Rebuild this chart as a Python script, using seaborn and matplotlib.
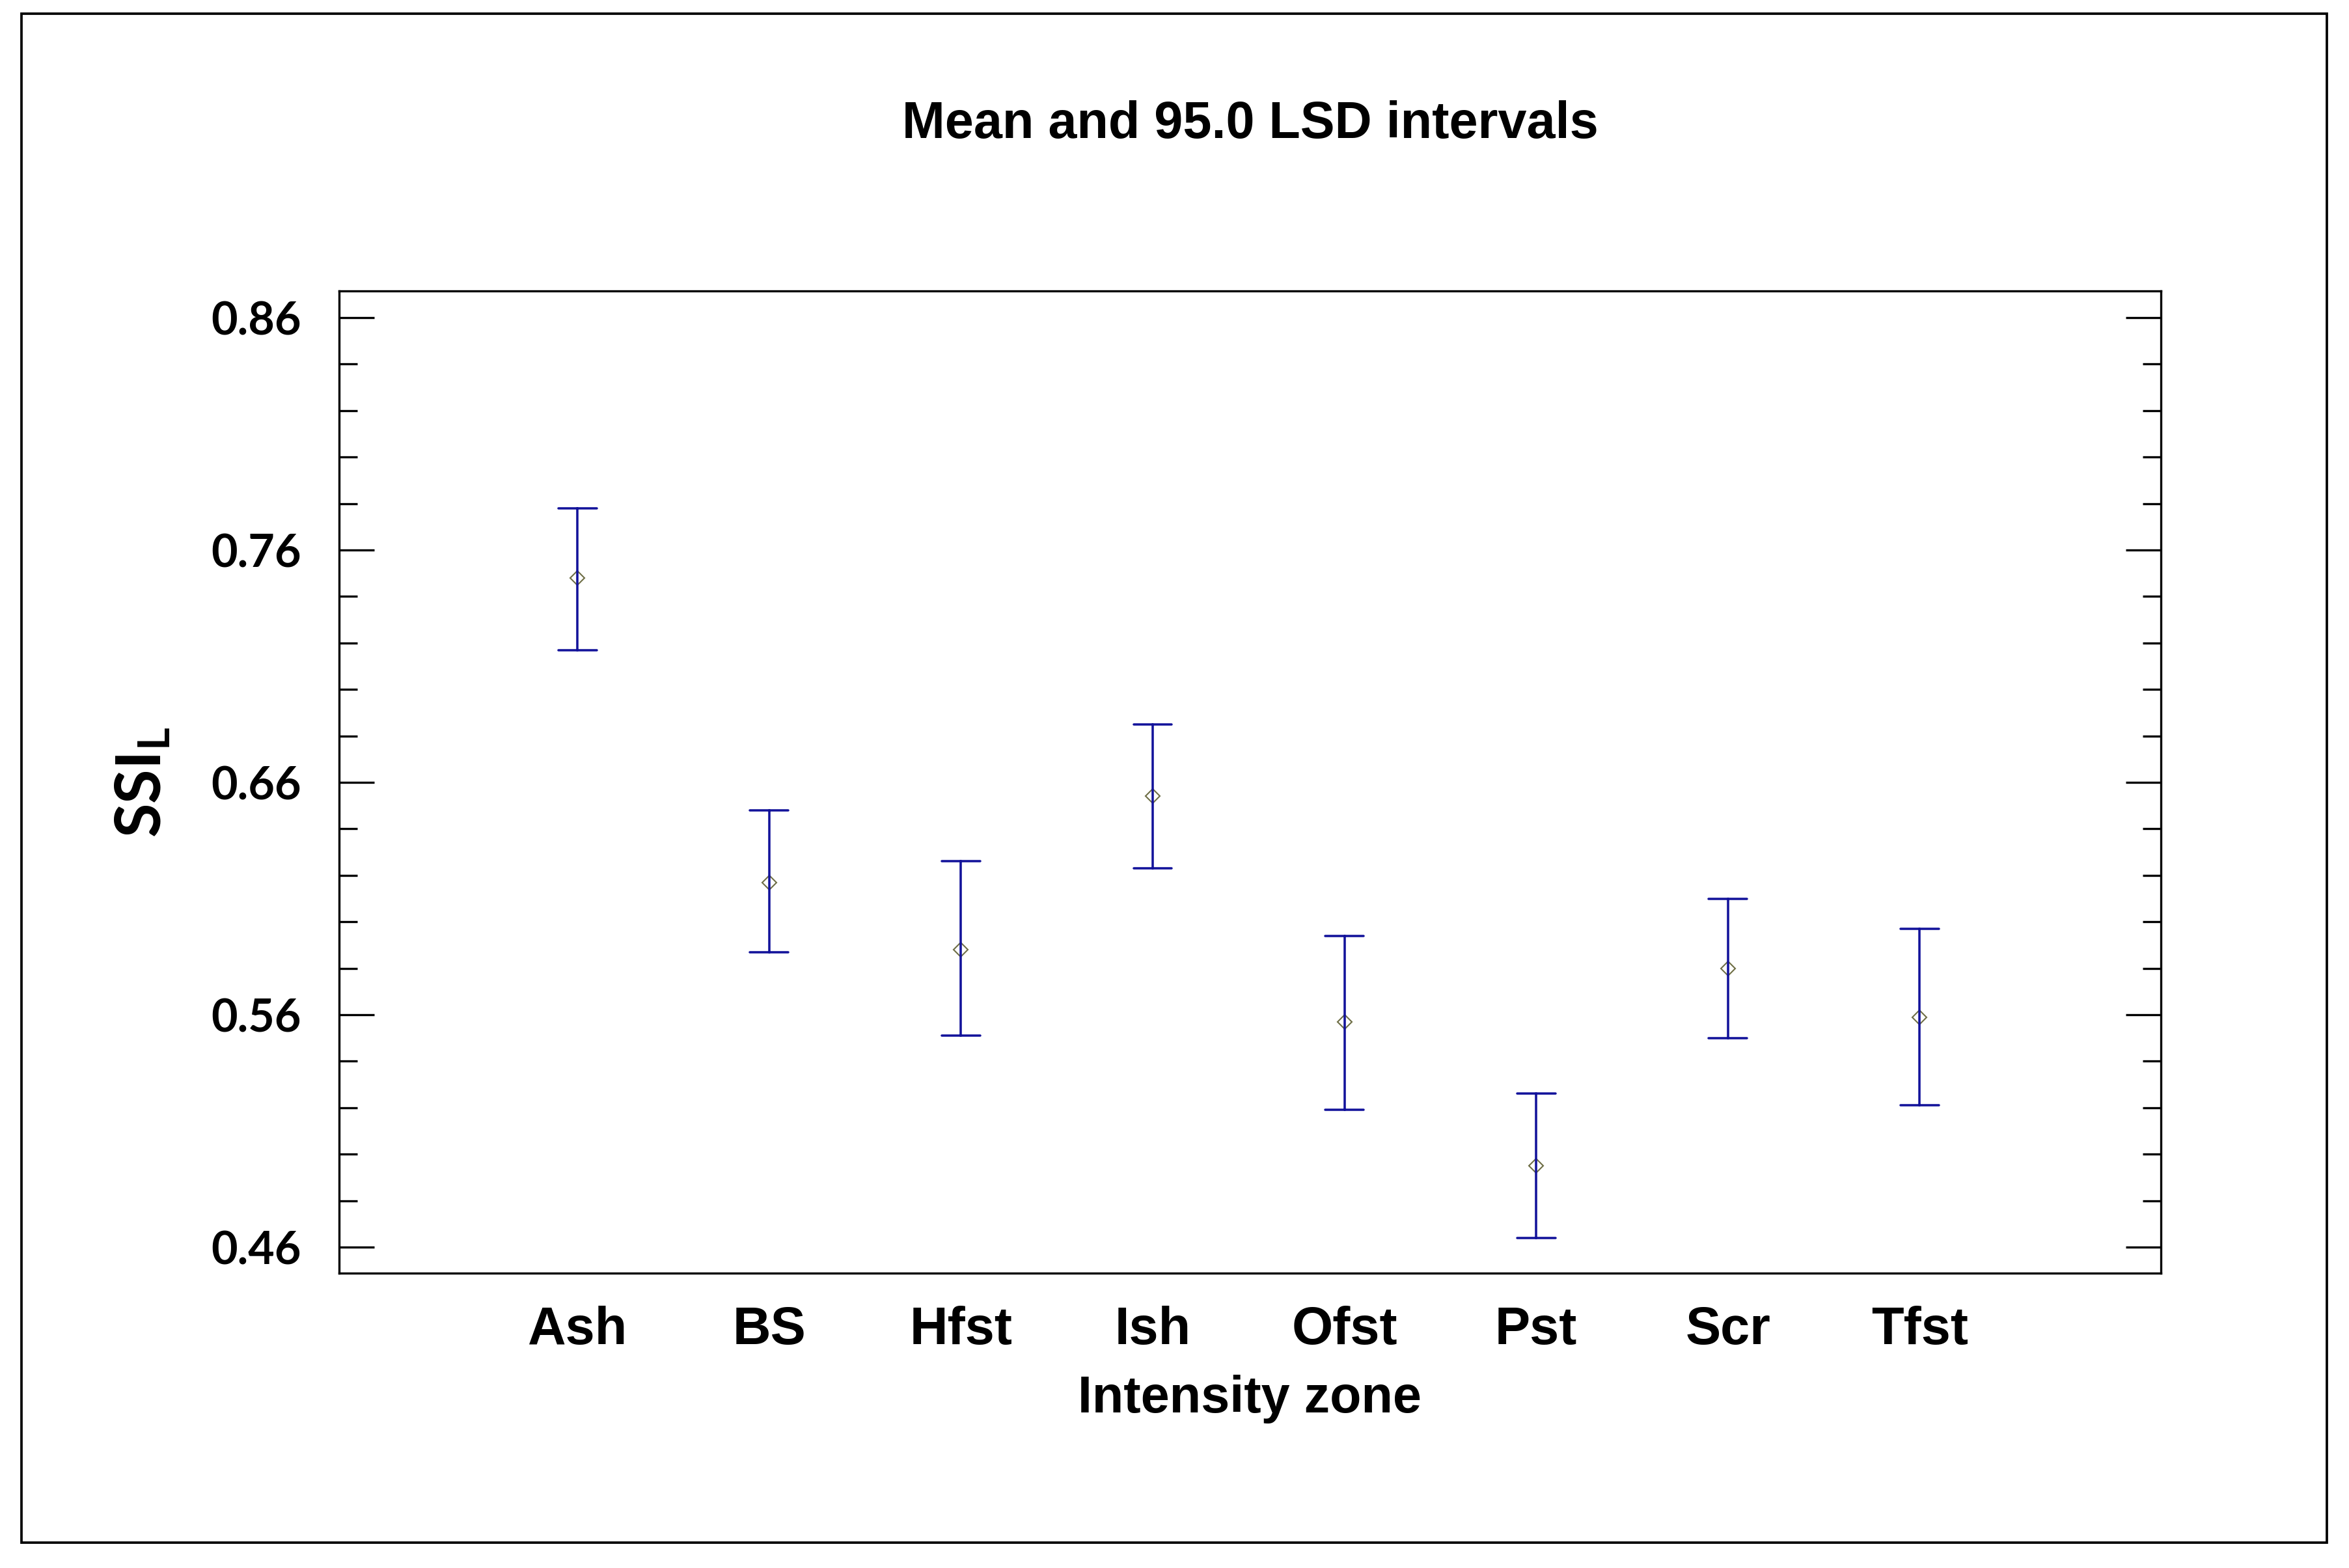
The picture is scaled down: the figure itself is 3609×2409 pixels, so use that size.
"""
Mean and 95.0 LSD intervals of SSI_L by intensity zone
(re-drawn from a Statgraphics means plot)
"""

import pandas as pd
import matplotlib.pyplot as plt
import matplotlib.patches as mpatches
from matplotlib.ticker import MultipleLocator
import seaborn as sns

# ── data ──────────────────────────────────────────────────────────────────────
ZONES   = ["Ash", "BS", "Hfst", "Ish", "Ofst", "Pst", "Scr", "Tfst"]
MEANS   = [0.748, 0.617, 0.588, 0.654, 0.557, 0.495, 0.580, 0.559]
LOWER   = [0.717, 0.587, 0.551, 0.623, 0.519, 0.464, 0.550, 0.521]
UPPER   = [0.778, 0.648, 0.626, 0.685, 0.594, 0.526, 0.610, 0.597]
Y_TICKS = [0.46, 0.56, 0.66, 0.76, 0.86]

NAVY  = "#12129A"
OLIVE = "#6E6E45"

# ── style ─────────────────────────────────────────────────────────────────────
sns.set_style("white")
plt.rcParams["font.family"] = ["Liberation Sans", "DejaVu Sans"]
plt.rcParams["font.weight"] = "bold"
plt.rcParams["mathtext.fontset"] = "custom"
plt.rcParams["mathtext.rm"] = "Lato:bold"
plt.rcParams["mathtext.it"] = "Lato:bold"
plt.rcParams["mathtext.bf"] = "Lato:bold"
plt.rcParams["axes.edgecolor"] = "black"
plt.rcParams["text.color"] = "black"
plt.rcParams["axes.labelcolor"] = "black"
plt.rcParams["xtick.color"] = "black"
plt.rcParams["ytick.color"] = "black"

# long table: each zone has lower / mean / upper -> median = mean, min/max = LSD limits
df = pd.DataFrame({
    "zone": ZONES * 3,
    "ssi":  LOWER + MEANS + UPPER,
})

fig = plt.figure(figsize=(12.03, 8.03), dpi=300, facecolor="white")
ax = fig.add_axes([0.14436, 0.18804, 0.77556, 0.62640])

sns.pointplot(
    data=df, x="zone", y="ssi", order=ZONES,
    estimator="median", errorbar=lambda v: (v.min(), v.max()),
    capsize=0.2, color=NAVY, markers="D", linestyles="none",
    err_kws={"linewidth": 0.85, "color": NAVY},
    markersize=3.6, markerfacecolor="none",
    markeredgecolor=OLIVE, markeredgewidth=0.5,
    ax=ax,
)

ax.set_xlim(-1.244, 8.259)
ax.set_ylim(0.4488, 0.8715)

# y axis: long ticks every 0.1, short every 0.02, both sides, pointing in
ax.set_yticks(Y_TICKS, labels=[f"{t:.2f}" for t in Y_TICKS],
              fontfamily="Lato", fontweight="bold", fontsize=16.8, color="black")
ax.yaxis.set_minor_locator(MultipleLocator(0.02))
ax.tick_params(axis="y", which="both", direction="in", left=True, right=True,
               width=0.8, color="black", pad=14)
ax.tick_params(axis="y", which="major", length=13)
ax.tick_params(axis="y", which="minor", length=6.7)
ax.tick_params(axis="x", length=0, pad=12, labelsize=19.5, labelcolor="black")

for side in ["left", "right", "top", "bottom"]:
    ax.spines[side].set_visible(True)
    ax.spines[side].set_linewidth(0.8)
    ax.spines[side].set_color("black")

ax.set_title("Mean and 95.0 LSD intervals", fontsize=19, fontweight="bold",
             pad=56.4, color="black")
ax.set_xlabel("Intensity zone", fontsize=19, fontweight="bold", color="black")
ax.xaxis.set_label_coords(0.5, -0.1034)
ax.set_ylabel(r"$\mathrm{SSI_L}$", fontsize=23, color="black")
ax.yaxis.set_label_coords(-0.0907, 0.5)

# outer frame round the whole picture
fig.add_artist(mpatches.Rectangle((0.00914, 0.01619), 0.9814, 0.97489,
                                  transform=fig.transFigure, fill=False,
                                  edgecolor="black", linewidth=0.9))

fig.savefig("out.png", dpi=300, facecolor="white")
plt.close()
